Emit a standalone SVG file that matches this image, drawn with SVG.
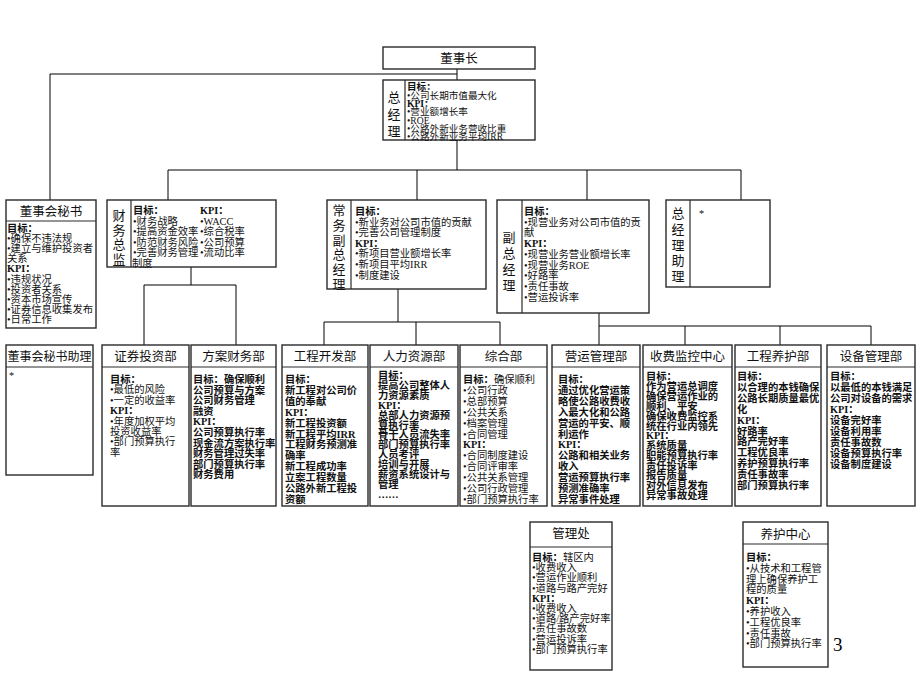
<svg xmlns="http://www.w3.org/2000/svg" width="920" height="690" viewBox="0 0 920 690">
<style>
.box{fill:#fff;stroke:#2a2a2a;stroke-width:1.4}
.dv{stroke:#2a2a2a;stroke-width:1.2;fill:none}
.cn{stroke:#000;stroke-width:1;fill:none}
text{font-family:"Liberation Serif","Noto Sans CJK SC",serif;fill:#111}
.t{font-size:10.3px}
.s{font-size:9.6px}
.b{font-weight:700}
.ti{font-size:12.5px;text-anchor:middle}
.lb{font-size:13px;text-anchor:middle}
</style>
<rect width="920" height="690" fill="#fff"/>
<g id="connectors">
<path class="cn" d="M457 69V80M457 74H50V200"/>
<path class="cn" d="M457 140V170M168 170H741M168 170V200M417 170V200M587 170V200M741 170V200"/>
<path class="cn" d="M191 267V285M144 285H236M144 285V345M236 285V345"/>
<path class="cn" d="M398 289V322M324 322H500M324 322V345M416 322V345M500 322V345"/>
<path class="cn" d="M599 313V345M599 326H871M685 326V345M780 326V345M871 326V345"/>
</g>
<g id="n-dongshizhang">
<rect class="box" x="383" y="47" width="152" height="22"/>
<text class="ti" x="459" y="62.5">董事长</text>
</g>
<g id="n-zongjingli">
<rect class="box" x="383" y="80" width="152" height="60"/>
<line class="dv" x1="405" y1="80" x2="405" y2="140"/>
<text class="lb" x="394" y="101.5">总</text><text class="lb" x="394" y="118.5">经</text><text class="lb" x="394" y="135.5">理</text>
<text class="s" x="407" y="90"><tspan class="b">目标：</tspan><tspan x="407" dy="8.6">•公司长期市值最大化</tspan><tspan x="407" dy="8.4" class="b">KPI：</tspan><tspan x="407" dy="8.4">•营业额增长率</tspan><tspan x="407" dy="8.2">•ROE</tspan><tspan x="407" dy="8.2">•公路外新业务营收比重</tspan><tspan x="407" dy="8.2">•公路外新业务平均IRR</tspan></text>
</g>
<g id="n-dongmi">
<rect class="box" x="6" y="200" width="90" height="128"/>
<line class="dv" x1="6" y1="221" x2="96" y2="221"/>
<text class="ti" x="51" y="215.5">董事会秘书</text>
<text class="t" x="7" y="232"><tspan class="b">目标：</tspan><tspan x="7" dy="10.1">•确保不违法规</tspan><tspan x="7" dy="10.1">•建立与维护投资者</tspan><tspan x="7" dy="10.1">关系</tspan><tspan x="7" dy="10.1" class="b">KPI：</tspan><tspan x="7" dy="10.1">•违规状况</tspan><tspan x="7" dy="10.1">•投资者关系</tspan><tspan x="7" dy="10.1">•资本市场宣传</tspan><tspan x="7" dy="10.1">•证券信息收集发布</tspan><tspan x="7" dy="10.1">•日常工作</tspan></text>
</g>
<g id="n-caiwu">
<rect class="box" x="107" y="200" width="169" height="67"/>
<line class="dv" x1="131" y1="200" x2="131" y2="267"/>
<text class="lb" x="119" y="220">财</text><text class="lb" x="119" y="234.5">务</text><text class="lb" x="119" y="249">总</text><text class="lb" x="119" y="263.5">监</text>
<text class="t" x="133" y="214"><tspan class="b">目标：</tspan><tspan x="133" dy="10.6">•财务战略</tspan><tspan x="133" dy="10.6">•提高资金效率</tspan><tspan x="133" dy="10.6">•防范财务风险</tspan><tspan x="133" dy="10.6">•完善财务管理</tspan><tspan x="132" dy="10.6">制度</tspan></text>
<text class="t" x="200" y="214"><tspan class="b">KPI：</tspan><tspan x="200" dy="10.6">•WACC</tspan><tspan x="200" dy="10.6">•综合税率</tspan><tspan x="200" dy="10.6">•公司预算</tspan><tspan x="200" dy="10.6">•流动比率</tspan></text>
</g>
<g id="n-changwu">
<rect class="box" x="327" y="200" width="159" height="89"/>
<line class="dv" x1="351" y1="200" x2="351" y2="289"/>
<text class="lb" x="339" y="215">常</text><text class="lb" x="339" y="229.8">务</text><text class="lb" x="339" y="244.6">副</text><text class="lb" x="339" y="259.4">总</text><text class="lb" x="339" y="274.2">经</text><text class="lb" x="339" y="289">理</text>
<text class="t" x="355" y="215"><tspan class="b">目标：</tspan><tspan x="355" dy="10.6">•新业务对公司市值的贡献</tspan><tspan x="355" dy="10.6">•完善公司管理制度</tspan><tspan x="355" dy="10.6" class="b">KPI：</tspan><tspan x="355" dy="10.6">•新项目营业额增长率</tspan><tspan x="355" dy="10.6">•新项目平均IRR</tspan><tspan x="355" dy="10.6">•制度建设</tspan></text>
</g>
<g id="n-fuzong">
<rect class="box" x="497" y="200" width="152" height="113"/>
<line class="dv" x1="522" y1="200" x2="522" y2="313"/>
<text class="lb" x="509" y="242">副</text><text class="lb" x="509" y="258">总</text><text class="lb" x="509" y="274">经</text><text class="lb" x="509" y="290">理</text>
<text class="t" x="524" y="215"><tspan class="b">目标：</tspan><tspan x="524" dy="10.7">•现营业务对公司市值的贡</tspan><tspan x="524" dy="10.7">献</tspan><tspan x="524" dy="10.7" class="b">KPI：</tspan><tspan x="524" dy="10.7">•现营业务营业额增长率</tspan><tspan x="524" dy="10.7">•现营业务ROE</tspan><tspan x="524" dy="10.7">•好路率</tspan><tspan x="524" dy="10.7">•责任事故</tspan><tspan x="524" dy="10.7">•营运投诉率</tspan></text>
</g>
<g id="n-zhuli">
<rect class="box" x="666" y="200" width="104" height="87"/>
<line class="dv" x1="690" y1="200" x2="690" y2="287"/>
<text class="lb" x="678" y="218">总</text><text class="lb" x="678" y="234">经</text><text class="lb" x="678" y="249.5">理</text><text class="lb" x="678" y="265">助</text><text class="lb" x="678" y="280.5">理</text>
<text class="t" x="699" y="217">*</text>
</g>
<g id="n-dongmizhuli">
<rect class="box" x="6" y="345" width="87" height="130"/>
<line class="dv" x1="6" y1="367" x2="93" y2="367"/>
<text class="ti" x="49.5" y="360.5" style="font-size:12px">董事会秘书助理</text>
<text class="t" x="9" y="379">*</text>
</g>
<g id="n-zhengquan">
<rect class="box" x="102" y="345" width="87" height="161"/>
<line class="dv" x1="102" y1="367" x2="189" y2="367"/>
<text class="ti" x="145.5" y="360.5">证券投资部</text>
<text class="t" x="110" y="383"><tspan class="b">目标：</tspan><tspan x="110" dy="10.4">•最低的风险</tspan><tspan x="110" dy="10.4">•一定的收益率</tspan><tspan x="110" dy="10.4" class="b">KPI：</tspan><tspan x="110" dy="10.4">•年度加权平均</tspan><tspan x="110" dy="10.4">投资收益率</tspan><tspan x="110" dy="10.4">•部门预算执行</tspan><tspan x="110" dy="10.4">率</tspan></text>
</g>
<g id="n-fangan">
<rect class="box" x="191" y="345" width="85" height="161"/>
<line class="dv" x1="191" y1="367" x2="276" y2="367"/>
<text class="ti" x="233.5" y="360.5">方案财务部</text>
<text class="t b" x="193" y="383"><tspan>目标：确保顺利</tspan><tspan x="193" dy="10.6">公司预算与方案</tspan><tspan x="193" dy="10.6">公司财务管理</tspan><tspan x="193" dy="10.6">融资</tspan><tspan x="193" dy="10.6">KPI：</tspan><tspan x="193" dy="10.6">公司预算执行率</tspan><tspan x="193" dy="10.6">现金流方案执行率</tspan><tspan x="193" dy="10.6">财务管理过失率</tspan><tspan x="193" dy="10.6">部门预算执行率</tspan><tspan x="193" dy="10.6">财务费用</tspan></text>
</g>
<g id="n-gongcheng">
<rect class="box" x="282" y="345" width="86" height="161"/>
<line class="dv" x1="282" y1="367" x2="368" y2="367"/>
<text class="ti" x="325" y="360.5">工程开发部</text>
<text class="t b" x="285" y="383"><tspan>目标：</tspan><tspan x="285" dy="10.9">新工程对公司价</tspan><tspan x="285" dy="10.9">值的奉献</tspan><tspan x="285" dy="10.9">KPI：</tspan><tspan x="285" dy="10.9">新工程投资额</tspan><tspan x="285" dy="10.9">新工程平均IRR</tspan><tspan x="285" dy="10.9">工程财务预测准</tspan><tspan x="285" dy="10.9">确率</tspan><tspan x="285" dy="10.9">新工程成功率</tspan><tspan x="285" dy="10.9">立案工程数量</tspan><tspan x="285" dy="10.9">公路外新工程投</tspan><tspan x="285" dy="10.9">资额</tspan></text>
</g>
<g id="n-renli">
<rect class="box" x="370" y="345" width="88" height="161"/>
<line class="dv" x1="370" y1="367" x2="458" y2="367"/>
<text class="ti" x="414" y="360.5">人力资源部</text>
<text class="t b" x="378" y="379"><tspan>目标：</tspan><tspan x="378" dy="9.9">提高公司整体人</tspan><tspan x="378" dy="9.9">力资源素质</tspan><tspan x="378" dy="9.9">KPI：</tspan><tspan x="378" dy="9.9">总部人力资源预</tspan><tspan x="378" dy="9.9">算执行率</tspan><tspan x="378" dy="9.9">骨干人员流失率</tspan><tspan x="378" dy="9.9">部门预算执行率</tspan><tspan x="378" dy="9.9">人员考评</tspan><tspan x="378" dy="9.9">培训与开展</tspan><tspan x="378" dy="9.9">薪资系统设计与</tspan><tspan x="378" dy="9.9">管理</tspan><tspan x="378" dy="9.9">……</tspan></text>
</g>
<g id="n-zonghe">
<rect class="box" x="460" y="345" width="87" height="161"/>
<line class="dv" x1="460" y1="367" x2="547" y2="367"/>
<text class="ti" x="503.5" y="360.5">综合部</text>
<text class="t" x="463" y="383"><tspan class="b">目标：</tspan><tspan>确保顺利</tspan><tspan x="463" dy="10.9">•公司行政</tspan><tspan x="463" dy="10.9">•总部预算</tspan><tspan x="463" dy="10.9">•公共关系</tspan><tspan x="463" dy="10.9">•档案管理</tspan><tspan x="463" dy="10.9">•合同管理</tspan><tspan x="463" dy="10.9" class="b">KPI：</tspan><tspan x="463" dy="10.9">•合同制度建设</tspan><tspan x="463" dy="10.9">•合同评审率</tspan><tspan x="463" dy="10.9">•公共关系管理</tspan><tspan x="463" dy="10.9">•公司行政管理</tspan><tspan x="463" dy="10.9">•部门预算执行率</tspan></text>
</g>
<g id="n-yingyun">
<rect class="box" x="552" y="345" width="88" height="161"/>
<line class="dv" x1="552" y1="367" x2="640" y2="367"/>
<text class="ti" x="596" y="360.5">营运管理部</text>
<text class="t b" x="558" y="383"><tspan>目标：</tspan><tspan x="558" dy="10.9">通过优化营运策</tspan><tspan x="558" dy="10.9">略使公路收费收</tspan><tspan x="558" dy="10.9">入最大化和公路</tspan><tspan x="558" dy="10.9">营运的平安、顺</tspan><tspan x="558" dy="10.9">利运作</tspan><tspan x="558" dy="10.9">KPI：</tspan><tspan x="558" dy="10.9">公路和相关业务</tspan><tspan x="558" dy="10.9">收入</tspan><tspan x="558" dy="10.9">营运预算执行率</tspan><tspan x="558" dy="10.9">预测准确率</tspan><tspan x="558" dy="10.9">异常事件处理</tspan></text>
</g>
<g id="n-shoufei">
<rect class="box" x="643" y="345" width="89" height="161"/>
<line class="dv" x1="643" y1="367" x2="732" y2="367"/>
<text class="ti" x="687.5" y="360.5">收费监控中心</text>
<text class="t b" x="646" y="380"><tspan>目标：</tspan><tspan x="646" dy="9.9">作为营运总调度</tspan><tspan x="646" dy="9.9">确保营运作业的</tspan><tspan x="646" dy="9.9">顺利、平安</tspan><tspan x="646" dy="9.9">确保收费监控系</tspan><tspan x="646" dy="9.9">统在行业内领先</tspan><tspan x="646" dy="9.9">KPI：</tspan><tspan x="646" dy="9.9">系统质量</tspan><tspan x="646" dy="9.9">职能预算执行率</tspan><tspan x="646" dy="9.9">责任投诉率</tspan><tspan x="646" dy="9.9">报告质量</tspan><tspan x="646" dy="9.9">对外信息发布</tspan><tspan x="646" dy="9.9">异常事故处理</tspan></text>
</g>
<g id="n-yanghu">
<rect class="box" x="735" y="345" width="86" height="161"/>
<line class="dv" x1="735" y1="367" x2="821" y2="367"/>
<text class="ti" x="778" y="360.5">工程养护部</text>
<text class="t b" x="737" y="380"><tspan>目标：</tspan><tspan x="737" dy="10.9">以合理的本钱确保</tspan><tspan x="737" dy="10.9">公路长期质量最优</tspan><tspan x="737" dy="10.9">化</tspan><tspan x="737" dy="10.9">KPI：</tspan><tspan x="737" dy="10.9">好路率</tspan><tspan x="737" dy="10.9">路产完好率</tspan><tspan x="737" dy="10.9">工程优良率</tspan><tspan x="737" dy="10.9">养护预算执行率</tspan><tspan x="737" dy="10.9">责任事故率</tspan><tspan x="737" dy="10.9">部门预算执行率</tspan></text>
</g>
<g id="n-shebei">
<rect class="box" x="827" y="345" width="88" height="161"/>
<line class="dv" x1="827" y1="367" x2="915" y2="367"/>
<text class="ti" x="871" y="360.5">设备管理部</text>
<text class="t b" x="830" y="380"><tspan>目标：</tspan><tspan x="830" dy="11">以最低的本钱满足</tspan><tspan x="830" dy="11">公司对设备的需求</tspan><tspan x="830" dy="11">KPI：</tspan><tspan x="830" dy="11">设备完好率</tspan><tspan x="830" dy="11">设备利用率</tspan><tspan x="830" dy="11">责任事故数</tspan><tspan x="830" dy="11">设备预算执行率</tspan><tspan x="830" dy="11">设备制度建设</tspan></text>
</g>
<g id="n-guanlichu">
<rect class="box" x="530" y="522" width="82" height="148"/>
<line class="dv" x1="530" y1="547" x2="612" y2="547"/>
<text class="ti" x="571" y="538">管理处</text>
<text class="t" x="532" y="561"><tspan class="b">目标：</tspan><tspan>辖区内</tspan><tspan x="532" dy="10.2">•收费收入</tspan><tspan x="532" dy="10.2">•营运作业顺利</tspan><tspan x="532" dy="10.2">•道路与路产完好</tspan><tspan x="532" dy="10.2" class="b">KPI：</tspan><tspan x="532" dy="10.2">•收费收入</tspan><tspan x="532" dy="10.2">•道路/路产完好率</tspan><tspan x="532" dy="10.2">•责任事故数</tspan><tspan x="532" dy="10.2">•营运投诉率</tspan><tspan x="532" dy="10.2">•部门预算执行率</tspan></text>
</g>
<g id="n-yanghuzhongxin">
<rect class="box" x="743" y="522" width="85" height="145"/>
<line class="dv" x1="743" y1="544" x2="828" y2="544"/>
<text class="ti" x="785.5" y="538.5">养护中心</text>
<text class="t" x="746" y="561"><tspan class="b">目标：</tspan><tspan x="746" dy="10.8">•从技术和工程管</tspan><tspan x="746" dy="10.8">理上确保养护工</tspan><tspan x="746" dy="10.8">程的质量</tspan><tspan x="746" dy="10.8" class="b">KPI：</tspan><tspan x="746" dy="10.8">•养护收入</tspan><tspan x="746" dy="10.8">•工程优良率</tspan><tspan x="746" dy="10.8">•责任事故</tspan><tspan x="746" dy="10.8">•部门预算执行率</tspan></text>
</g>
<text x="833" y="651" style="font-size:19px;fill:#000">3</text>
</svg>
